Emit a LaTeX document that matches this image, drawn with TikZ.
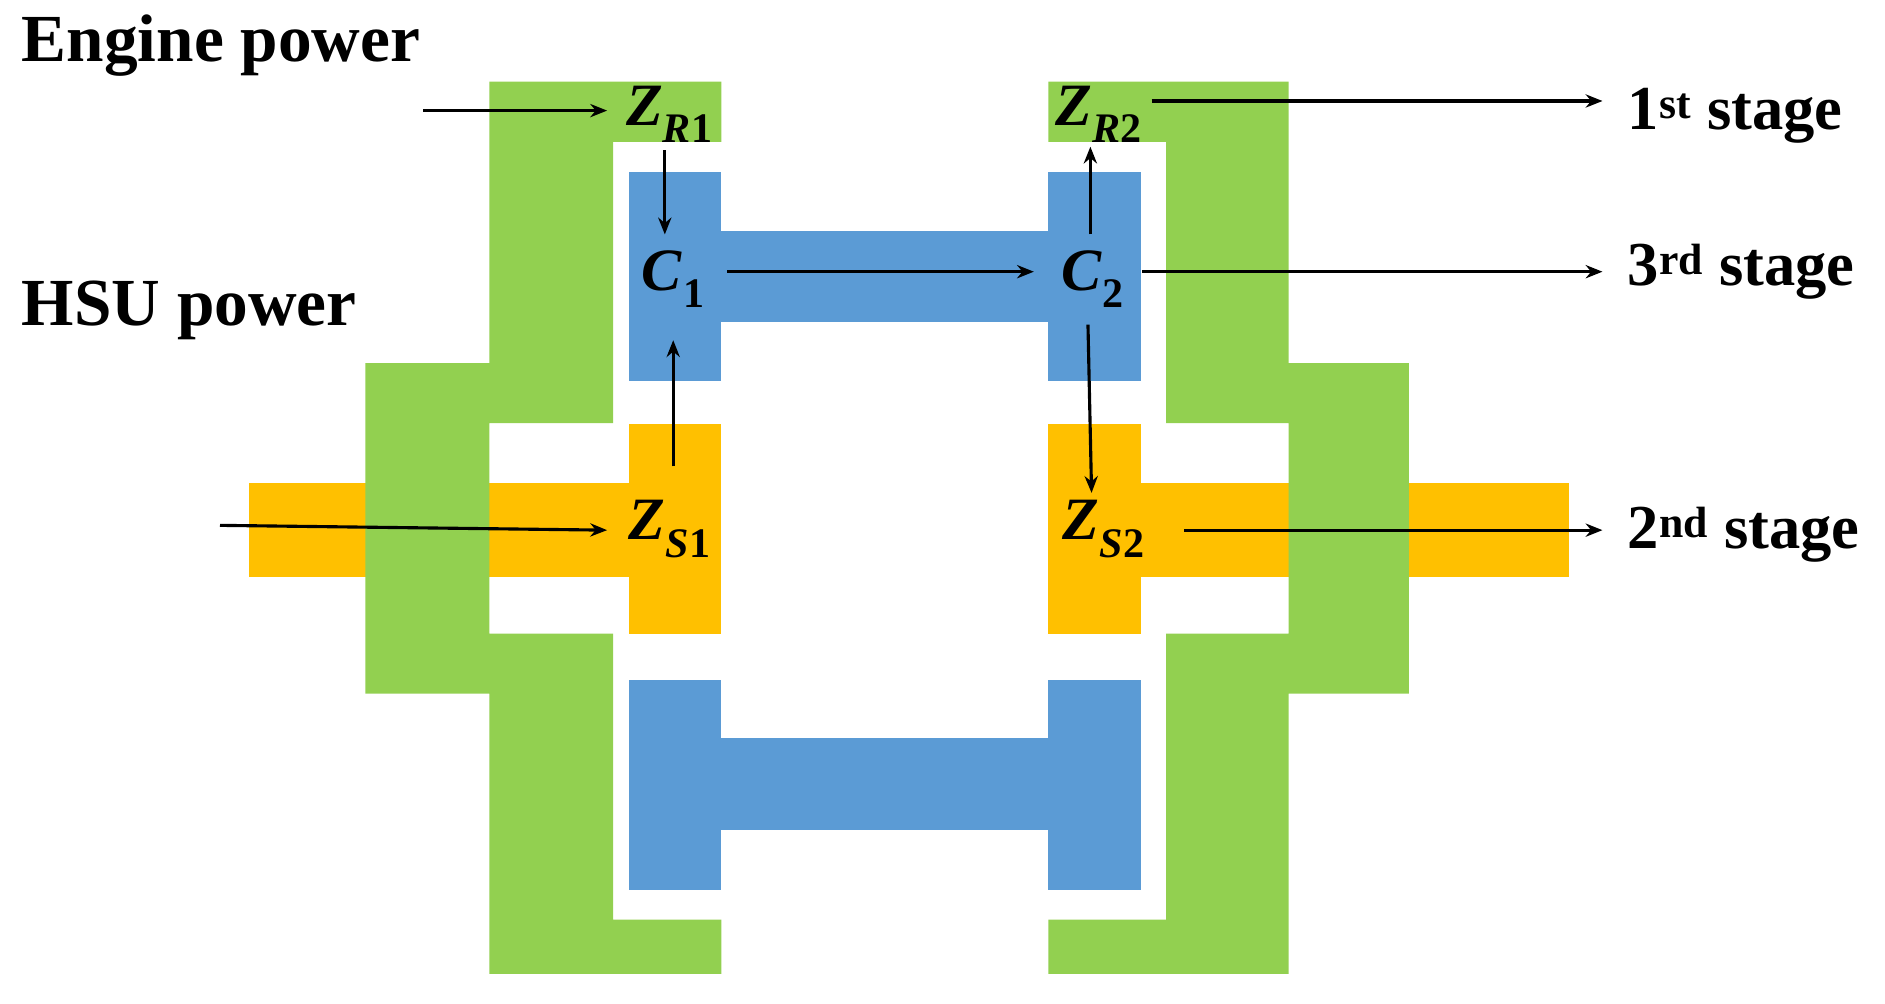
\documentclass[tikz,border=0pt]{standalone}
\usepackage{fontspec}
\setmainfont{Liberation Serif}
\usetikzlibrary{arrows.meta}
\newcommand{\lab}[2]{\textbf{\textit{#1}\textsubscript{\textit{#2}}}}
\begin{document}
\begin{tikzpicture}[x=1pt,y=-1pt,
  lbl/.style={font=\fontsize{52}{58}\selectfont\bfseries,inner sep=2pt},
  ml/.style={font=\fontsize{50}{56}\selectfont,inner sep=2pt},
  arr/.style={-{Stealth[length=14pt,width=11pt]},line width=2.6pt,black}]
\useasboundingbox (0,0) rectangle (1568,835);
\definecolor{gr}{HTML}{92D050}\definecolor{yl}{HTML}{FFC000}\definecolor{bl}{HTML}{5B9BD5}
% yellow
\fill[yl] (207,402) rectangle (600,480);
\fill[yl] (523,353) rectangle (600,527);
\fill[yl] (872,402) rectangle (1305,480);
\fill[yl] (872,353) rectangle (949,527);
% green
\fill[gr] (407,68)--(600,68)--(600,118)--(510,118)--(510,352)--(407,352)--(407,527)--(510,527)--(510,765)--(600,765)--(600,810)--(407,810)--(407,577)--(304,577)--(304,302)--(407,302)--cycle;
\fill[gr] (1072,68)--(872,68)--(872,118)--(970,118)--(970,352)--(1072,352)--(1072,527)--(970,527)--(970,765)--(872,765)--(872,810)--(1072,810)--(1072,577)--(1172,577)--(1172,302)--(1072,302)--cycle;
% blue
\fill[bl] (523,143) rectangle (600,317);
\fill[bl] (872,143) rectangle (949,317);
\fill[bl] (600,192) rectangle (872,268);
\fill[bl] (523,566) rectangle (600,740);
\fill[bl] (872,566) rectangle (949,740);
\fill[bl] (600,614) rectangle (872,690);
% labels
\node[ml] (zr1) at (557,95) {\lab{Z}{R}\textsubscript{\textbf{1}}};
\node[ml] (zr2) at (914,95) {\lab{Z}{R}\textsubscript{\textbf{2}}};
\node[ml] (c1) at (560,232) {\lab{C}{}\textsubscript{\textbf{1}}};
\node[ml] (c2) at (909,232) {\lab{C}{}\textsubscript{\textbf{2}}};
\node[ml] (zs1) at (557,440) {\lab{Z}{S}\textsubscript{\textbf{1}}};
\node[ml] (zs2) at (918,440) {\lab{Z}{S}\textsubscript{\textbf{2}}};
\node[lbl,anchor=west,font=\fontsize{56}{60}\selectfont\bfseries] (ep) at (16,38) {Engine power};
\node[lbl,anchor=west,font=\fontsize{56}{60}\selectfont\bfseries] (hsu) at (16,258) {HSU power};
\node[lbl,anchor=west] (s1) at (1352,96) {1\textsuperscript{st} stage};
\node[lbl,anchor=west] (s3) at (1352,226) {3\textsuperscript{rd} stage};
\node[lbl,anchor=west] (s2) at (1352,445) {2\textsuperscript{nd} stage};
\coordinate (e0) at (352,92);
\coordinate (h0) at (183,437);
% arrows
\draw[arr] (e0) -- (505,92);
\draw[arr] (553,125) -- (553,195);
\draw[arr] (605,226) -- (860,226);
\draw[arr] (560,388) -- (560,283);
\draw[arr] (h0) -- (505,441);
\draw[arr] (958,84) -- (1333,84);
\draw[arr] (950,226) -- (1333,226);
\draw[arr] (905,270) -- (908,410);
\draw[arr] (907,195) -- (907,122);
\draw[arr] (985,441) -- (1333,441);
\end{tikzpicture}
\end{document}
